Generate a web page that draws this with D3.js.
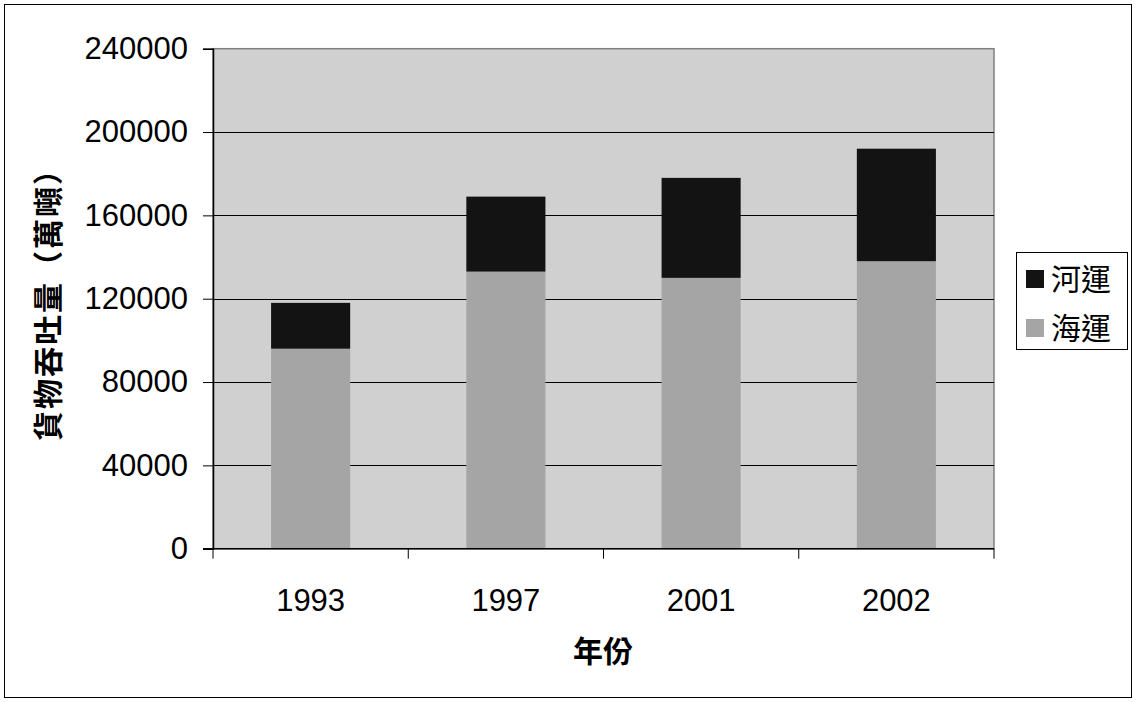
<!DOCTYPE html>
<html><head><meta charset="utf-8">
<script src="https://cdn.jsdelivr.net/npm/d3@7"></script>
<style>body{margin:0;background:#fff;}svg{display:block;}text{text-spacing-trim:space-all;}</style>
</head><body>
<script>
const categories = ["1993","1997","2001","2002"];
const seaValues = [96000,133000,130000,138000];
const riverValues = [22000,36000,48000,54000];
const seriesNames = ["河運","海運"];
const yTicks = [0,40000,80000,120000,160000,200000,240000];
const yTitle = "貨物吞吐量（萬噸）";
const xTitle = "年份";

const W=1136,H=702;
const font = "'Liberation Sans', Arial, 'Noto Sans CJK TC', sans-serif";
const cjk = "'Noto Sans CJK TC', 'Liberation Sans', sans-serif";
const svg = d3.select("body").append("svg").attr("width",W).attr("height",H);
svg.append("rect").attr("x",4.5).attr("y",4.5).attr("width",1127).attr("height",693).attr("fill","#fff").attr("stroke","#000").attr("stroke-width",1);

const L=213,R=994,T=48.7,B=548.7;
const x = d3.scaleBand().domain(categories).range([L,R]).padding(0);
const y = d3.scaleLinear().domain([0,240000]).range([B,T]);

svg.append("rect").attr("x",L).attr("y",T).attr("width",R-L).attr("height",B-T).attr("fill","#d0d0d0").attr("stroke","#808080").attr("stroke-width",1.5);

// grid
svg.append("g").selectAll("line").data(yTicks.filter(d=>d>0&&d<240000)).join("line")
  .attr("x1",L).attr("x2",R).attr("y1",d=>Math.round(y(d))+0.5).attr("y2",d=>Math.round(y(d))+0.5)
  .attr("stroke","#000").attr("stroke-width",1);

const data = categories.map((c,i)=>({c, sea:seaValues[i], river:riverValues[i]}));
const stack = d3.stack().keys(["sea","river"])(data);
const colors = {sea:"#a5a5a5", river:"#131313"};
const bw = x.bandwidth()*0.405;
stack.forEach(s=>{
  svg.append("g").selectAll("rect").data(s).join("rect")
    .attr("x",d=>x(d.data.c)+(x.bandwidth()-bw)/2)
    .attr("width",bw)
    .attr("y",d=>y(d[1]))
    .attr("height",d=>y(d[0])-y(d[1]))
    .attr("fill",colors[s.key]);
});

// y axis
const yAxis = d3.axisLeft(y).tickValues(yTicks).tickFormat(d3.format("d")).tickSize(10).tickPadding(15);
const gy = svg.append("g").attr("transform",`translate(${L},0)`).call(yAxis);
gy.select(".domain").attr("stroke","#000").attr("stroke-width",1.5);
gy.selectAll(".tick line").attr("stroke","#000");
gy.selectAll("text").attr("font-family",font).attr("font-size",31).attr("fill","#000");

// x axis
const gx = svg.append("g").attr("transform",`translate(0,${B})`);
gx.append("line").attr("x1",L-10).attr("x2",R).attr("y1",0).attr("y2",0).attr("stroke","#000").attr("stroke-width",1.5);
const bounds = categories.map(c=>x(c)).concat([R]);
gx.selectAll("line.t").data(bounds).join("line").attr("class","t")
  .attr("x1",d=>d).attr("x2",d=>d).attr("y1",0).attr("y2",10).attr("stroke","#000");
gx.selectAll("text").data(categories).join("text")
  .attr("x",d=>x(d)+x.bandwidth()/2).attr("y",62).attr("text-anchor","middle")
  .attr("font-family",font).attr("font-size",31).attr("fill","#000").text(d=>d);

// titles
svg.append("text").attr("x",603).attr("y",662).attr("text-anchor","middle")
  .attr("font-family",cjk).attr("font-weight","bold").attr("font-size",30).text(xTitle);
svg.append("text").attr("transform","translate(59,298) rotate(-90)").attr("text-anchor","middle")
  .attr("font-family",cjk).attr("font-weight","bold").attr("font-size",30)
  .attr("textLength",286).attr("lengthAdjust","spacing").text(yTitle);

// legend
const lg = svg.append("g");
lg.append("rect").attr("x",1016.5).attr("y",252.5).attr("width",111).attr("height",97).attr("fill","#fff").attr("stroke","#000");
const legendColors = [colors.river, colors.sea];
seriesNames.forEach((n,i)=>{
  const cy = 279 + i*49;
  lg.append("rect").attr("x",1026).attr("y",cy-9).attr("width",18).attr("height",18).attr("fill",legendColors[i]);
  lg.append("text").attr("x",1051).attr("y",cy+11).attr("font-family",cjk).attr("font-size",30).attr("fill","#000").text(n);
});
</script>
</body></html>
